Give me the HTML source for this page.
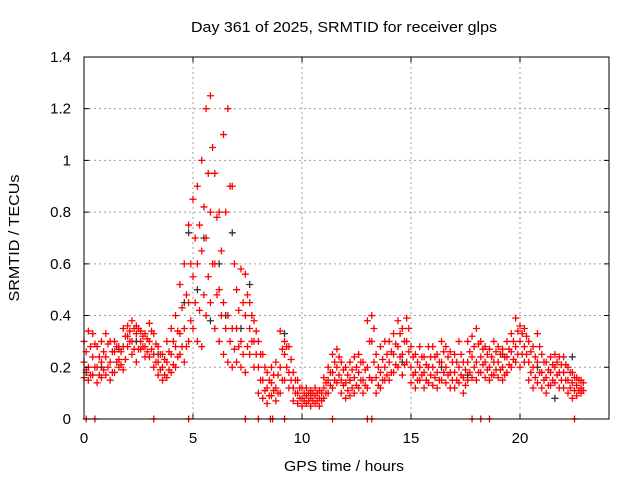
<!DOCTYPE html>
<html><head><meta charset="utf-8"><style>
body{margin:0;background:#fff}
svg{display:block;font-family:"Liberation Sans",sans-serif}
</style></head><body>
<svg id="chart" width="640" height="480">
<rect width="640" height="480" fill="#fff"/>
<text x="344" y="32" font-size="15" text-anchor="middle" textLength="306" lengthAdjust="spacingAndGlyphs">Day 361 of 2025, SRMTID for receiver glps</text>
<text x="344" y="471" font-size="15" text-anchor="middle" textLength="120" lengthAdjust="spacingAndGlyphs">GPS time / hours</text>
<text transform="translate(19,238) rotate(-90)" font-size="15" text-anchor="middle" textLength="127" lengthAdjust="spacingAndGlyphs">SRMTID / TECUs</text>
<g id="grid"></g><g id="marks"></g>
<rect x="84" y="57" width="525" height="362" fill="none" stroke="#000"/>
</svg>
<script>
const xTicks=[0,5,10,15,20];
const yTicks=[0,0.2,0.4,0.6,0.8,1,1.2,1.4];
const yTickLabels=["0","0.2","0.4","0.6","0.8","1","1.2","1.4"];
const times=[];for(let i=0;i<=114;i++)times.push(+(i*0.2).toFixed(1));
const timesB=[];for(let i=0;i<=114;i++)timesB.push(+(i*0.2+0.1).toFixed(1));
const redLow=[.16,.15,.17,.14,.16,.17,.15,.18,.2,.19,.28,.25,.22,.27,.24,.24,.2,.17,.15,.16,.18,.2,.25,.22,.3,.35,.3,.28,.4,.45,.35,.3,.25,.22,.2,.22,.2,.18,.25,.2,.1,.08,.06,.09,.07,.1,.15,.12,.07,.06,.05,.06,.05,.06,.05,.08,.1,.12,.14,.1,.08,.09,.1,.12,.1,.12,.15,.1,.12,.15,.15,.18,.2,.17,.22,.14,.12,.15,.12,.14,.13,.12,.15,.14,.12,.12,.14,.1,.15,.16,.15,.18,.16,.15,.17,.16,.15,.18,.2,.22,.2,.22,.15,.12,.14,.12,.1,.13,.14,.12,.12,.1,.08,.09,.1];
const redMid=[.22,.2,.24,.2,.22,.24,.22,.26,.23,.28,.32,.3,.33,.3,.28,.3,.25,.22,.2,.22,.25,.28,.33,.35,.45,.55,.6,.65,.7,.8,.6,.5,.45,.4,.35,.35,.3,.4,.35,.3,.2,.15,.12,.14,.12,.2,.25,.18,.12,.1,.08,.09,.08,.09,.08,.12,.15,.18,.2,.15,.14,.15,.16,.18,.15,.2,.3,.16,.18,.2,.22,.25,.28,.25,.3,.2,.18,.2,.18,.2,.2,.18,.22,.2,.18,.18,.2,.16,.22,.24,.22,.24,.22,.2,.22,.22,.2,.24,.26,.28,.3,.28,.22,.2,.22,.18,.16,.18,.2,.18,.18,.15,.14,.13,.12];
const redHigh=[.3,.34,.33,.28,.3,.33,.3,.3,.28,.35,.36,.38,.36,.34,.33,.37,.33,.28,.25,.3,.35,.4,.52,.6,.75,.85,.9,1.0,1.2,1.25,.95,.8,1.1,1.2,.9,.5,.58,.56,.45,.38,.3,.25,.18,.2,.22,.34,.3,.28,.18,.15,.12,.12,.11,.12,.11,.16,.2,.25,.27,.22,.2,.22,.24,.25,.22,.38,.4,.25,.28,.3,.3,.33,.38,.35,.39,.28,.25,.28,.24,.28,.28,.25,.3,.28,.26,.25,.3,.22,.3,.32,.35,.3,.28,.27,.3,.28,.27,.3,.33,.39,.36,.35,.3,.28,.33,.25,.22,.24,.25,.24,.24,.2,.18,.16,.15];
const redA=[.19,.17,.2,.17,.19,.2,.18,.22,.21,.23,.3,.27,.27,.28,.26,.27,.22,.19,.17,.19,.21,.24,.28,.28,.38,.45,.42,.48,.55,.6,.48,.4,.35,.3,.27,.28,.25,.28,.3,.25,.15,.11,.09,.11,.1,.15,.2,.15,.1,.08,.07,.07,.07,.07,.07,.1,.13,.15,.17,.13,.11,.12,.13,.15,.13,.16,.22,.13,.15,.17,.18,.21,.24,.21,.26,.17,.15,.17,.15,.17,.16,.15,.18,.17,.15,.15,.17,.13,.18,.2,.18,.21,.19,.17,.19,.19,.17,.21,.23,.25,.25,.25,.18,.16,.18,.15,.13,.15,.17,.15,.15,.12,.11,.11,.11];
const redB=[.26,.28,.29,.24,.26,.29,.26,.28,.26,.32,.34,.35,.35,.32,.31,.34,.29,.25,.23,.26,.3,.34,.43,.48,.6,.7,.75,.82,.95,1.05,.78,.65,.8,.9,.6,.42,.45,.48,.4,.34,.25,.2,.15,.17,.17,.27,.28,.23,.15,.12,.1,.1,.1,.1,.1,.14,.18,.22,.24,.19,.17,.19,.2,.22,.19,.3,.35,.2,.23,.25,.26,.29,.33,.3,.35,.24,.22,.24,.21,.24,.24,.22,.26,.24,.22,.22,.25,.19,.26,.28,.29,.27,.25,.24,.26,.25,.24,.27,.3,.34,.33,.32,.26,.24,.28,.22,.19,.21,.22,.21,.21,.18,.16,.15,.14];
const blackTimes=[0.1,0.8,1.6,2.4,3.4,4.6,4.8,5.2,5.5,5.8,6.2,6.5,6.8,7.2,7.6,9.2,10.4,12.2,14.6,16.4,17.6,19.2,20.8,21.6,22.4];
const blackValues=[0.18,0.2,0.27,0.3,0.25,0.45,0.72,0.5,0.7,0.38,0.6,0.4,0.72,0.35,0.52,0.33,0.1,0.15,0.22,0.2,0.17,0.25,0.2,0.08,0.24];
const zeroTimes=[0.1,0.5,3.2,4.8,7.4,8.0,8.55,8.65,9.2,11.4,13.0,13.2,17.8,18.2,18.6,22.5];
const X=v=>84+v*21.8, Y=v=>419-v*258.6;
const NS="http://www.w3.org/2000/svg",svg=document.getElementById('chart');
const grid=document.getElementById('grid'),marks=document.getElementById('marks');
function mk(tag,at,parent){const e=document.createElementNS(NS,tag);for(const k in at)e.setAttribute(k,at[k]);parent.appendChild(e);return e;}
xTicks.forEach(t=>{
  if(t>0){const g=mk('line',{x1:X(t),x2:X(t),y1:57,y2:419,stroke:'#a0a0a0','stroke-dasharray':'2,3'},grid);
  
  }
  const tk=mk('path',{d:`M${X(t)} 419v-5M${X(t)} 57v5`,stroke:'#000'},svg);
  
  
  const l=mk('text',{x:X(t),y:443,'font-size':15,'text-anchor':'middle'},svg);l.textContent=t;
  
  
});
yTicks.forEach((t,i)=>{
  if(t>0){const g=mk('line',{x1:84,x2:609,y1:Y(t),y2:Y(t),stroke:'#a0a0a0','stroke-dasharray':'2,3'},grid);
  
  }
  const tk=mk('path',{d:`M84 ${Y(t)}h5M609 ${Y(t)}h-5`,stroke:'#000'},svg);
  
  
  const l=mk('text',{x:71,y:Y(t)+5,'font-size':15,'text-anchor':'end'},svg);l.textContent=yTickLabels[i];
  
  
});
function plus(t,v,c,name){const x=X(t),y=Y(v);
  const p=mk('path',{d:`M${x-3.5} ${y}h7M${x} ${y-3.5}v7`,stroke:c,'stroke-width':1.3},marks);
  
  }
blackTimes.forEach((t,i)=>plus(t,blackValues[i],'#333','black-point'));
[redLow,redMid,redHigh].forEach(arr=>arr.forEach((v,i)=>plus(times[i],v,'#f00','red-point')));
[redA,redB].forEach(arr=>arr.forEach((v,i)=>plus(timesB[i],v,'#f00','red-point')));
zeroTimes.forEach(t=>plus(t,0,'#f00','zero-point'));
</script>
</body></html>
